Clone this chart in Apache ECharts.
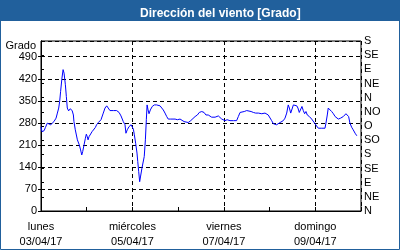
<!DOCTYPE html>
<html><head><meta charset="utf-8">
<script src="https://cdn.jsdelivr.net/npm/echarts@6/dist/echarts.min.js"></script>
<style>html,body{margin:0;padding:0;background:#fff}#c{width:400px;height:250px}</style>
</head><body><div id="c"></div>
<script>
const titleText = 'Dirección del viento [Grado]';
const yName = 'Grado';
const dayNames = ['lunes','martes','miércoles','jueves','viernes','sábado','domingo','lunes'];
const dayDates = ['03/04/17','04/04/17','05/04/17','06/04/17','07/04/17','08/04/17','09/04/17','10/04/17'];
const dirLabels = ['N','NE','E','SE','S','SO','O','NO','N','NE','E','SE','S'];
// hours since 03/04/17 00:00
const hours = [0,0.5,1.6,2.3,3.3,4.2,5.1,6.1,6.8,7.9,8.6,9.3,9.8,10.3,11.0,11.6,12.1,12.8,13.3,13.8,14.5,15.4,16.4,17.0,17.3,18.0,19.1,20.1,20.8,21.4,21.9,22.6,23.3,23.8,24.3,24.7,25.2,26.1,26.8,27.5,28.5,
29.2,30.1,31.5,32.7,33.6,34.5,35.3,36.2,38.0,39.7,41.0,42.0,43.2,44.1,44.6,45.3,46.2,47.3,47.9,48.5,49.0,49.7,50.4,50.8,51.3,51.8,52.3,53.0,53.7,54.2,54.8,55.3,55.7,56.2,56.7,57.4,58.4,59.5,60.7,
62.5,63.4,64.2,65.1,66.0,66.8,68.1,69.1,70.4,71.6,73.0,73.9,75.1,76.1,77.3,77.9,78.6,79.6,80.9,82.1,83.1,84.4,85.6,86.6,87.8,88.7,89.6,
90.5,91.4,92.2,93.1,94.0,94.9,95.7,96.6,97.1,97.7,98.3,99.2,101.0,102.7,103.6,104.5,105.4,106.7,108.0,108.8,110.3,111.5,112.7,114.1,115.0,115.9,116.7,117.6,118.5,119.3,120.2,121.1,122.0,122.9,123.7,124.6,125.5,126.4,127.2,128.1,129.0,129.8,130.4,131.1,131.8,132.5,133.4,134.3,134.9,135.6,136.3,137.0,137.7,138.4,139.1,139.8,140.9,142.1,143.0,143.9,144.7,145.6,147.4,149.1,149.6,150.3,150.8,151.7,152.6,153.5,154.4,155.2,156.1,157.3,158.7,160.1,160.8,161.5,162.2,163.1,163.9,164.9,165.8];
const direction = [268,252,255,265,279,281,274,277,284,295,311,327,348,380,422,449,438,401,364,327,318,325,318,305,284,258,226,210,194,178,189,210,231,244,236,226,236,242,252,255,265,
274,281,290,311,327,334,327,319,319,319,313,302,284,274,247,258,268,274,268,260,242,215,184,157,125,93,111,136,141,173,226,290,337,321,309,321,332,337,337,
334,332,321,311,300,292,292,295,292,290,292,287,284,284,281,279,287,292,300,305,313,316,313,305,305,302,298,
300,298,300,302,298,292,292,287,281,290,284,287,287,287,300,313,316,316,319,316,316,313,311,311,305,309,305,311,311,305,300,287,277,274,274,277,281,284,287,295,311,337,327,311,324,337,340,334,327,313,319,332,319,309,316,305,300,292,287,277,270,263,263,263,279,305,327,321,316,309,300,295,292,295,300,309,311,300,279,266,258,247,239];

const seriesData = hours.map((h,i)=>[h, direction[i]]);
const FONT = 'Liberation Sans';
const chart = echarts.init(document.getElementById('c'), null, {renderer:'canvas'});
chart.setOption({
  animation:false,
  backgroundColor:'#ffffff',
  graphic:[
    {type:'rect', shape:{x:0,y:0,width:400,height:21}, style:{fill:'#21609c'}, z:-1},
    {type:'rect', shape:{x:0.5,y:0.5,width:399,height:249}, style:{fill:'none',stroke:'#21609c',lineWidth:1}, z:-1}
  ],
  title:{text:titleText, left:135, top:3, textStyle:{color:'#fff',fontFamily:FONT,fontSize:12,fontWeight:'bold'}},
  grid:{left:41,right:39,top:41,bottom:39,show:true,borderColor:'#000',borderWidth:1,backgroundColor:'transparent'},
  xAxis:[{
    type:'value',min:0,max:168,interval:24,
    axisLine:{show:true,lineStyle:{color:'#000',width:1}},
    axisTick:{show:true,inside:true,length:4,lineStyle:{color:'#000'}},
    splitLine:{show:false},
    axisLabel:{margin:8,color:'#000',fontFamily:FONT,fontSize:11,lineHeight:15,
      formatter:function(v){const d=Math.round(v/24); if(d%2!==0||d>=7) return ''; return dayNames[d]+'\n'+dayDates[d];}}
  },{
    type:'value',min:0,max:168,interval:48,position:'bottom',
    axisLine:{show:false},axisTick:{show:false},axisLabel:{show:false},
    splitLine:{show:true,lineStyle:{color:'#000',type:[4,3],width:1}}
  }],
  yAxis:[{
    type:'value',min:0,max:540,interval:70,position:'left',
    name:yName,nameLocation:'end',nameGap:-5,
    nameTextStyle:{align:'right',verticalAlign:'middle',padding:[0,5,0,0],color:'#000',fontFamily:FONT,fontSize:11},
    axisLine:{show:true,lineStyle:{color:'#000'}},
    axisTick:{show:true,inside:false,length:3,lineStyle:{color:'#000'}},
    axisLabel:{margin:4,color:'#000',fontFamily:FONT,fontSize:11,showMaxLabel:false},
    splitLine:{show:true,lineStyle:{color:'#000',type:[4,3],width:1}}
  },{
    type:'value',min:0,max:540,interval:45,position:'right',
    axisLine:{show:true,lineStyle:{color:'#000'}},
    axisTick:{show:true,inside:false,length:3,lineStyle:{color:'#000'}},
    axisLabel:{margin:3,color:'#000',fontFamily:FONT,fontSize:11,formatter:function(v){return dirLabels[Math.round(v/45)];}},
    splitLine:{show:false}
  }],
  series:[{type:'line',xAxisIndex:0,yAxisIndex:0,data:seriesData,showSymbol:false,smooth:false,
    lineStyle:{color:'#0000ff',width:1},itemStyle:{color:'#0000ff'}}]
});
</script></body></html>
